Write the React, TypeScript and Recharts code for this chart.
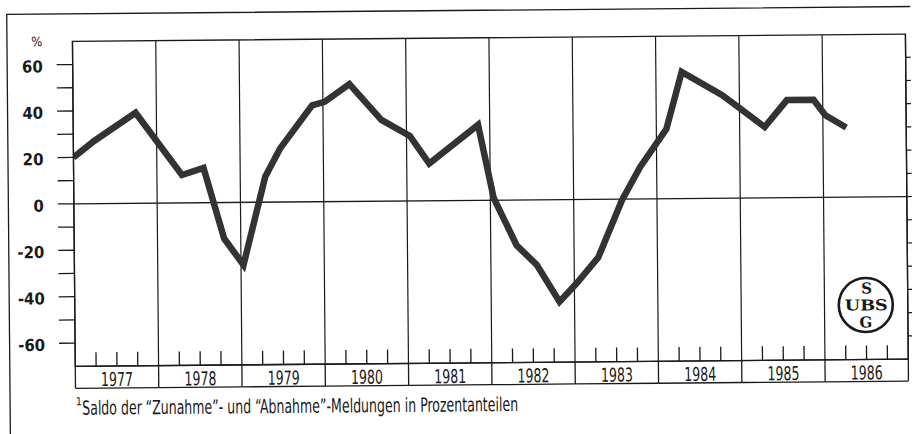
import React from 'react';
import { LineChart, Line, XAxis, YAxis, ReferenceLine, ReferenceArea } from 'recharts';

// ---- data ----
const years = [1977, 1978, 1979, 1980, 1981, 1982, 1983, 1984, 1985, 1986];
const periods = [
  1977.0, 1977.25, 1977.75, 1978.3, 1978.56, 1978.8, 1979.03, 1979.3, 1979.48, 1979.87,
  1980.02, 1980.32, 1980.7, 1981.04, 1981.27, 1981.86, 1982.04, 1982.31, 1982.55, 1982.82,
  1983.03, 1983.29, 1983.58, 1983.8, 1984.12, 1984.31, 1984.79, 1985.03, 1985.3, 1985.57,
  1985.89, 1986.03, 1986.28,
];
const saldo = [
  20, 27, 39, 12, 15, -15.5, -27, 11, 23, 41.5,
  43, 50.5, 35, 28, 16, 32.5, 1, -19.5, -28, -44,
  -36, -25, -0.5, 13.7, 30, 54.5, 44.5, 38, 30.5, 42,
  42, 35.3, 30,
];
const yTicks = [-60, -50, -40, -30, -20, -10, 0, 10, 20, 30, 40, 50, 60];
const yLabels = [-60, -40, -20, 0, 20, 40, 60];
const footnote = 'Saldo der \u201CZunahme\u201D- und \u201CAbnahme\u201D-Meldungen in Prozentanteilen';

const data = periods.map((p, i) => ({ t: p, v: saldo[i] }));
const xTicks: number[] = [];
years.forEach((y) => [0, 0.25, 0.5, 0.75].forEach((q) => xTicks.push(y + q)));
xTicks.push(years[years.length - 1] + 1);

// ---- layout ----
const W = 912;
const H = 434;
const PLOT_L = 74;
const PLOT_R = 907;
const PLOT_T = 38;
const PLOT_B = 363;
const BOX_H = 22;
const YEAR_W = (PLOT_R - PLOT_L) / years.length;
const INK = '#1a1a1a';
const FONT = '"Liberation Sans Narrow", "DejaVu Sans Condensed", "Roboto", sans-serif';

const XTick = (props: any) => {
  const { x, y, payload } = props;
  const v = payload.value as number;
  const q = Math.round((v - Math.floor(v)) * 4);
  const els: any[] = [];
  if (q === 0) {
    els.push(<line key="d" x1={x} x2={x} y1={y} y2={y + BOX_H} stroke={INK} strokeWidth={1.3} />);
  } else {
    els.push(<line key="q" x1={x} x2={x} y1={y - 14} y2={y} stroke={INK} strokeWidth={1.3} />);
  }
  if (q === 2) {
    els.push(
      <line key="b" x1={x - YEAR_W / 2} x2={x + YEAR_W / 2} y1={y + BOX_H} y2={y + BOX_H} stroke={INK} strokeWidth={1.3} />
    );
    els.push(
      <text key="t" x={x} y={y + BOX_H / 2 + 2} textAnchor="middle" dominantBaseline="central"
        fontFamily={FONT} fontSize={19} textLength={32} lengthAdjust="spacingAndGlyphs" fill={INK}>
        {Math.floor(v)}
      </text>
    );
  }
  return <g>{els}</g>;
};

const YTickLeft = (props: any) => {
  const { y, payload } = props;
  const v = payload.value as number;
  if (!yLabels.includes(v)) return <g />;
  return (
    <text x={PLOT_L - 30} y={y + 2} textAnchor="end" dominantBaseline="central" fontFamily={FONT}
      fontSize={16.5} fontWeight="bold" fill={INK}>
      {v}
    </text>
  );
};

const Empty = () => <g />;

export default function App() {
  return (
    <div style={{ position: 'absolute', left: 0, top: 0, width: W, height: H, background: '#fff',
      transform: 'rotate(-0.5deg)', transformOrigin: `${W / 2}px ${H / 2}px` }}>
      <LineChart width={W} height={H} data={data}
        margin={{ top: PLOT_T, right: 0, left: 0, bottom: H - PLOT_B - BOX_H }}>
        <XAxis dataKey="t" type="number" domain={[1977, 1987]} ticks={xTicks} interval={0}
          height={BOX_H} tickSize={0} tickMargin={0} tickLine={false} tick={<XTick />}
          axisLine={{ stroke: INK, strokeWidth: 1.3 }} allowDataOverflow />
        <YAxis yAxisId="l" orientation="left" type="number" width={PLOT_L} domain={[-70, 70]}
          ticks={yTicks} interval={0} tickSize={16} tickMargin={14} tick={<YTickLeft />}
          tickLine={{ stroke: INK, strokeWidth: 1.3 }} axisLine={{ stroke: INK, strokeWidth: 1.3 }} allowDataOverflow />
        <YAxis yAxisId="r" orientation="right" type="number" width={W - PLOT_R} domain={[-70, 70]}
          ticks={yTicks} interval={0} tickSize={8} tickMargin={0} tick={<Empty />}
          tickLine={{ stroke: INK, strokeWidth: 1.2 }} axisLine={{ stroke: INK, strokeWidth: 1.3 }} allowDataOverflow />
        <ReferenceArea yAxisId="l" x1={1977} x2={1987} y1={-70} y2={70} fill="none" fillOpacity={0}
          stroke={INK} strokeWidth={1.3} />
        {years.slice(1).map((y) => (
          <ReferenceLine key={y} yAxisId="l" x={y} stroke={INK} strokeWidth={1.2} />
        ))}
        <ReferenceLine yAxisId="l" y={0} stroke={INK} strokeWidth={1.3} />
        <Line yAxisId="l" dataKey="v" type="linear" stroke="#333" strokeWidth={6.5}
          strokeLinejoin="miter" strokeLinecap="butt" dot={false} activeDot={false} isAnimationActive={false} />
      </LineChart>
      <svg width={W} height={H} style={{ position: 'absolute', left: 0, top: 0, pointerEvents: 'none' }}>
        <rect x={8.5} y={10.5} width={960} height={426} fill="none" stroke={INK} strokeWidth={1.3} />
        <text x={44} y={38} textAnchor="end" dominantBaseline="central" fontFamily={FONT} fontSize={13} fill={INK}>%</text>
        <text x={74} y={402} fontFamily={FONT} fontSize={11} fill={INK}>1</text>
        <text x={80.5} y={411.5} fontFamily={FONT} fontSize={19.5} textLength={436} lengthAdjust="spacingAndGlyphs" fill={INK}>
          {footnote}
        </text>
        <g fontFamily='"DejaVu Serif", "Liberation Serif", serif' fontWeight="bold" fill={INK} textAnchor="middle">
          <circle cx={865} cy={308.6} r={27} fill="none" stroke={INK} strokeWidth={2.6} />
          <text x={866} y={292} dominantBaseline="central" fontSize={15}>S</text>
          <text x={865.5} y={309} textLength={43} lengthAdjust="spacingAndGlyphs" dominantBaseline="central" fontSize={15}>UBS</text>
          <text x={865} y={326} dominantBaseline="central" fontSize={15}>G</text>
        </g>
      </svg>
    </div>
  );
}
